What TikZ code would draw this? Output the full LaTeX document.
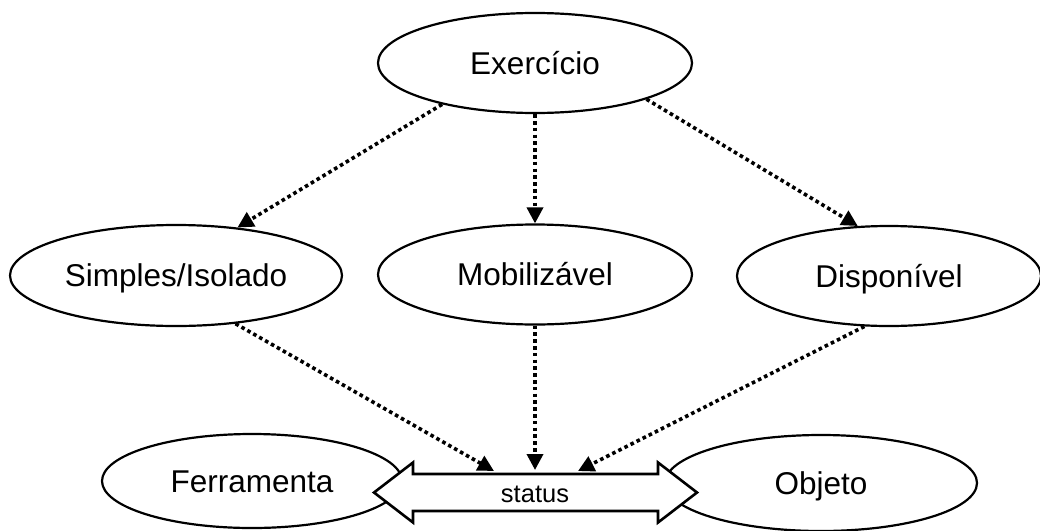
\documentclass[tikz,border=0pt]{standalone}
\usepackage{fontspec}
\setmainfont{Liberation Sans}
\usetikzlibrary{shapes.geometric,arrows.meta}
\begin{document}
\begin{tikzpicture}[x=1pt,y=-1pt,
  oval/.style={ellipse, draw, line width=2.2pt, fill=white, inner sep=0pt,
    text height=22.2pt, text depth=0pt, font=\fontsize{31.5}{36}\selectfont},
  link/.style={line width=3.6pt, dash pattern=on 3.6pt off 3.2pt,
    -{Triangle[length=16pt,width=16pt]}},
  flow/.style={draw, line width=2.6pt, fill=white, line join=miter},
  tag/.style={font=\fontsize{25.5}{30}\selectfont, inner sep=0pt, anchor=base}]
\useasboundingbox (0,0) rectangle (1040,530);

% concepts
\node[oval, minimum width=314pt, minimum height=100pt] (ex) at (535,63) {Exercício};
\node[oval, minimum width=332pt, minimum height=101pt] (si) at (176,275.5) {Simples/Isolado};
\node[oval, minimum width=314pt, minimum height=100pt] (mo) at (535,274.5) {Mobilizável};
\node[oval, minimum width=304pt, minimum height=100pt] (di) at (889,276) {Disponível};
\node[oval, minimum width=300pt, minimum height=94pt] (fe) at (252,481) {Ferramenta};
\node[oval, minimum width=312pt, minimum height=96pt] (ob) at (821,483) {Objeto};

% double arrow between Ferramenta and Objeto
\coordinate (aL) at (374,492.5);
\coordinate (aR) at (697,492.5);
\draw[flow] (aL) -- (413,462.5) -- (413,474) -- (658,474) -- (658,462.5)
  -- (aR) -- (658,522.5) -- (658,511) -- (413,511) -- (413,522.5) -- cycle;
\node[tag] (st) at (535,502) {status};
\coordinate (s1) at (494,471);
\coordinate (s2) at (535,470);
\coordinate (s3) at (578,471);

% dotted links
\draw[link] (ex.204) -- (si.38);
\draw[link] (ex.south) -- (mo.north);
\draw[link] (ex.-18) -- (di.122);
\draw[link] (si.-39) -- (s1);
\draw[link] (mo.south) -- (s2);
\draw[link] (di.244) -- (s3);
\end{tikzpicture}
\end{document}
